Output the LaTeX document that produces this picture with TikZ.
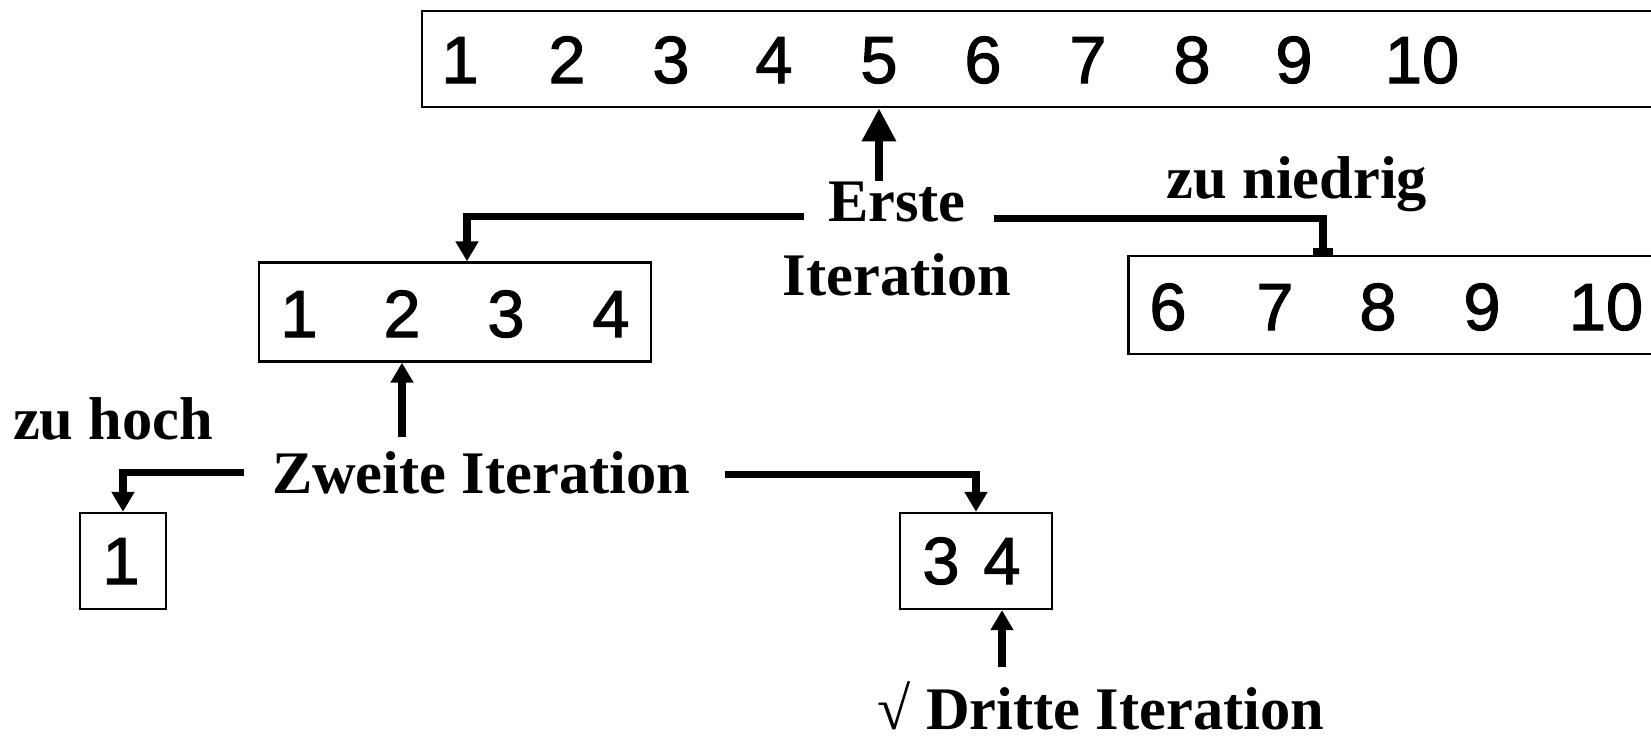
\documentclass[tikz,border=0pt]{standalone}
\usepackage{fontspec}
\setmainfont{Liberation Serif}
\newfontfamily\digitfont[FakeBold=1.6]{Liberation Sans}
\usetikzlibrary{arrows.meta}

\begin{document}
\begin{tikzpicture}[x=0.1mm, y=-0.1mm,
	numbox/.style={draw, line width=0.7pt, inner sep=0pt},
	digit/.style={anchor=base, inner sep=0pt, font=\digitfont\fontsize{19}{19}\selectfont},
	lbl/.style={anchor=base, inner sep=0pt, font=\bfseries\fontsize{17.2}{17.2}\selectfont},
	conn/.style={line width=2pt},
	arr/.style={line width=2pt, -{Triangle[length=2mm, width=2.2mm]}}]
	\useasboundingbox (0,0) rectangle (1651,743);
	\clip (0,0) rectangle (1651,743);

	% boxes
	\node[numbox, minimum width=127.8mm, minimum height=9.65mm] (row) at (1061,59) {};
	\node[numbox, minimum width=39.2mm, minimum height=9.9mm] (lower) at (455,312) {};
	\node[numbox, minimum width=57.1mm, minimum height=9.8mm] (upper) at (1414,305) {};
	\node[numbox, minimum width=8.6mm, minimum height=9.6mm] (one) at (123,561) {};
	\node[numbox, minimum width=15.2mm, minimum height=9.6mm] (pair) at (976,561) {};

	% digits
	\foreach \n/\x in {1/460,2/567,3/671,4/774,5/879,6/983,7/1088,8/1192,9/1294,10/1422}
		\node[digit] (t\n) at (\x,83) {\n};
	\foreach \n/\x in {1/299,2/402,3/506,4/611}
		\node[digit] (a\n) at (\x,337) {\n};
	\foreach \n/\x in {6/1168,7/1275,8/1378,9/1482,10/1606}
		\node[digit] (b\n) at (\x,330) {\n};
	\node[digit] (c1) at (121,584) {1};
	\node[digit] (p3) at (941,584) {3};
	\node[digit] (p4) at (1002,584) {4};

	% labels
	\node[lbl] (erste) at (897,221) {Erste};
	\node[lbl] (erste2) at (897,295) {Iteration};
	\node[lbl] (niedrig) at (1297,198) {zu niedrig};
	\node[lbl] (zweite) at (481,493) {Zweite Iteration};
	\node[lbl] (hoch) at (113,439) {zu hoch};
	\node[lbl] (dritte) at (1101,729) {{\mdseries\char"221A} Dritte Iteration};

	\coordinate (in1) at (467,0);
	\coordinate (in2) at (1323,0);

	% connectors
	\draw[line width=2pt, -{Triangle[length=3.3mm, width=3.3mm]}] (t5 |- erste.north) -- (t5 |- row.south);
	\draw[arr] ([xshift=-2.3mm, yshift=-1.5mm]erste.west) -| (in1 |- lower.north);
	\draw[conn, -{Bar[width=2mm]}] ([xshift=2.7mm, yshift=-1.7mm]erste.east) -| (in2 |- upper.north);
	\draw[arr, shorten <=1.3mm] (a2 |- zweite.north) -- (a2 |- lower.south);
	\draw[arr] ([xshift=-2.7mm]zweite.west) -| (one.north);
	\draw[arr] ([xshift=3.4mm, yshift=-0.2mm]zweite.east) -| (pair.north);
	\draw[arr, shorten <=1.3mm] (p4 |- dritte.north) -- (p4 |- pair.south);
\end{tikzpicture}
\end{document}
